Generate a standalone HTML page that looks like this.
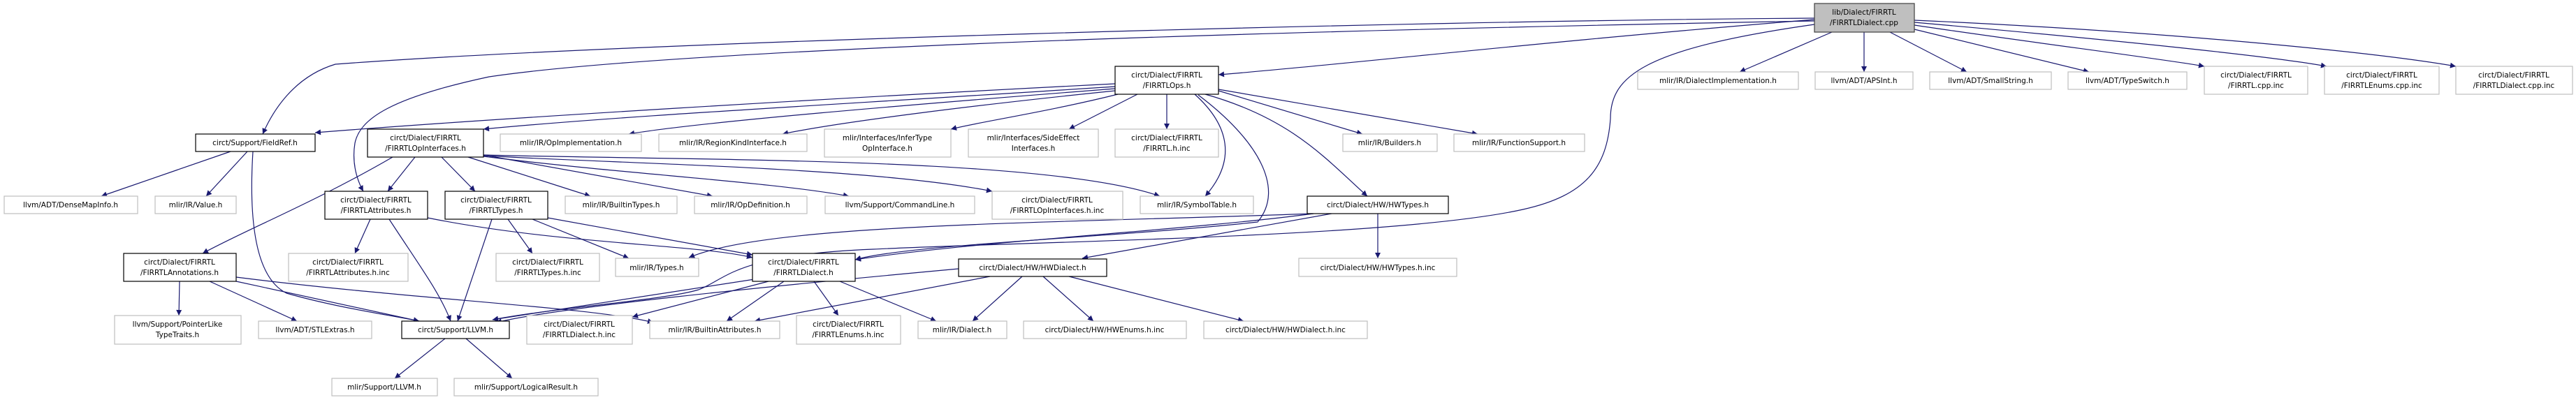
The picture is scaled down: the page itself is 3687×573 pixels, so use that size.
<!DOCTYPE html>
<html><head><meta charset="utf-8"><style>
html,body{margin:0;padding:0;background:#fff;}
svg{display:block;}
text{font-family:"DejaVu Sans","Liberation Sans",sans-serif;font-size:10.5px;fill:#000;}
.e{fill:none;stroke:#191970;stroke-width:1.2;}
.b{fill:#fff;stroke:#000;stroke-width:1.2;}
.g{fill:#fff;stroke:#bfbfbf;stroke-width:1.2;}
</style></head><body>
<svg width="3687" height="573" viewBox="0 0 3687 573" xmlns="http://www.w3.org/2000/svg">
<defs><marker id="a" viewBox="0 0 10 10" refX="10" refY="5" markerWidth="9" markerHeight="8" orient="auto" markerUnits="userSpaceOnUse"><path d="M0,0L10,5L0,10z" fill="#191970"/></marker></defs>
<g class="e" marker-end="url(#a)">
<path d="M2597,28 C2200,60 1900,95 1744,107"/>
<path d="M2597,26 C2000,30 900,60 480,92 C420,110 390,160 376,192"/>
<path d="M2597,30 C1500,50 900,80 700,110 C560,140 515,170 508,205 C503,235 512,260 520,274"/>
<path d="M2597,35 C2350,70 2305,110 2305,170 C2300,240 2270,280 2180,300 C2000,340 1500,345 1250,357 C1050,365 1040,400 1000,415 C950,430 800,440 705,458"/>
<path d="M2622,46 L2490,103"/>
<path d="M2668,46 L2668,103"/>
<path d="M2705,46 L2815,103"/>
<path d="M2740,42 L2990,103"/>
<path d="M2740,36 C2900,60 3100,85 3155,95"/>
<path d="M2740,32 C3000,55 3250,80 3330,95"/>
<path d="M2740,29 C3100,45 3400,75 3515,95"/>
<path d="M1596,120 C1200,140 700,170 451,190"/>
<path d="M1596,124 C1200,150 900,165 692,185"/>
<path d="M1596,127 C1300,150 1000,175 900,192"/>
<path d="M1596,130 C1400,150 1200,175 1120,192"/>
<path d="M1600,135 C1500,160 1400,175 1361,185"/>
<path d="M1628,135 L1530,185"/>
<path d="M1670,135 L1670,185"/>
<path d="M1710,135 C1760,180 1770,230 1725,281"/>
<path d="M1744,130 L1950,192"/>
<path d="M1744,128 L2115,192"/>
<path d="M1725,135 C1850,170 1900,230 1957,281"/>
<path d="M1715,136 C1800,200 1840,270 1800,318 C1600,340 1300,350 1224,372"/>
<path d="M562,225 C450,290 350,330 290,363"/>
<path d="M594,225 L555,274"/>
<path d="M632,225 L680,274"/>
<path d="M670,225 L845,281"/>
<path d="M692,222 L1020,281"/>
<path d="M692,224 C900,250 1100,260 1215,281"/>
<path d="M692,223 C900,235 1250,240 1420,274"/>
<path d="M692,222 C1000,230 1500,225 1660,281"/>
<path d="M612,312 C800,350 1000,350 1077,369"/>
<path d="M784,312 L1077,365"/>
<path d="M762,314 L900,370"/>
<path d="M727,314 L762,363"/>
<path d="M704,314 L655,460"/>
<path d="M530,314 L508,363"/>
<path d="M557,314 C600,380 630,420 645,460"/>
<path d="M330,217 L145,281"/>
<path d="M354,217 L295,281"/>
<path d="M362,217 C355,330 370,400 410,420 C480,440 550,450 600,460"/>
<path d="M257,403 L256,452"/>
<path d="M300,403 L425,460"/>
<path d="M338,403 L600,460"/>
<path d="M338,397 C600,430 850,440 935,462"/>
<path d="M637,485 L565,542"/>
<path d="M667,485 L733,542"/>
<path d="M1080,400 L705,458"/>
<path d="M1122,403 L1040,460"/>
<path d="M1165,403 L1200,452"/>
<path d="M1100,403 L905,454"/>
<path d="M1202,403 L1340,460"/>
<path d="M1372,385 C1100,410 800,440 710,462"/>
<path d="M1417,396 L1080,460"/>
<path d="M1463,396 L1392,460"/>
<path d="M1493,396 L1565,460"/>
<path d="M1530,396 L1780,460"/>
<path d="M1972,306 L1972,370"/>
<path d="M1906,306 L1549,370"/>
<path d="M1880,306 C1700,330 1400,345 1224,372"/>
<path d="M1880,306 C1500,320 1100,320 986,369"/>
</g>
<g>
<rect class="b" x="2597" y="5" width="143" height="41" style="fill:#bfbfbf;stroke:#404040"/>
<text x="2668" y="21" text-anchor="middle">lib/Dialect/FIRRTL</text><text x="2668" y="36" text-anchor="middle">/FIRRTLDialect.cpp</text>
<rect class="b" x="1596" y="95" width="148" height="40"/><text x="1670" y="111" text-anchor="middle">circt/Dialect/FIRRTL</text><text x="1670" y="126" text-anchor="middle">/FIRRTLOps.h</text>
<rect class="b" x="280" y="192" width="171" height="25"/><text x="365" y="208" text-anchor="middle">circt/Support/FieldRef.h</text>
<rect class="b" x="526" y="185" width="166" height="40"/><text x="609" y="201" text-anchor="middle">circt/Dialect/FIRRTL</text><text x="609" y="216" text-anchor="middle">/FIRRTLOpInterfaces.h</text>
<rect class="g" x="716" y="192" width="202" height="25"/><text x="817" y="208" text-anchor="middle">mlir/IR/OpImplementation.h</text>
<rect class="g" x="6" y="281" width="191" height="25"/><text x="101" y="297" text-anchor="middle">llvm/ADT/DenseMapInfo.h</text>
<rect class="g" x="222" y="281" width="116" height="25"/><text x="280" y="297" text-anchor="middle">mlir/IR/Value.h</text>
<rect class="b" x="465" y="274" width="147" height="40"/><text x="538" y="290" text-anchor="middle">circt/Dialect/FIRRTL</text><text x="538" y="305" text-anchor="middle">/FIRRTLAttributes.h</text>
<rect class="b" x="637" y="274" width="147" height="40"/><text x="710" y="290" text-anchor="middle">circt/Dialect/FIRRTL</text><text x="710" y="305" text-anchor="middle">/FIRRTLTypes.h</text>
<rect class="g" x="809" y="281" width="160" height="25"/><text x="889" y="297" text-anchor="middle">mlir/IR/BuiltinTypes.h</text>
<rect class="b" x="177" y="363" width="161" height="40"/><text x="257" y="379" text-anchor="middle">circt/Dialect/FIRRTL</text><text x="257" y="394" text-anchor="middle">/FIRRTLAnnotations.h</text>
<rect class="g" x="413" y="363" width="171" height="40"/><text x="498" y="379" text-anchor="middle">circt/Dialect/FIRRTL</text><text x="498" y="394" text-anchor="middle">/FIRRTLAttributes.h.inc</text>
<rect class="g" x="710" y="363" width="148" height="40"/><text x="784" y="379" text-anchor="middle">circt/Dialect/FIRRTL</text><text x="784" y="394" text-anchor="middle">/FIRRTLTypes.h.inc</text>
<rect class="g" x="881" y="370" width="119" height="26"/><text x="940" y="387" text-anchor="middle">mlir/IR/Types.h</text>
<rect class="g" x="164" y="452" width="181" height="41"/><text x="254" y="468" text-anchor="middle">llvm/Support/PointerLike</text><text x="254" y="483" text-anchor="middle">TypeTraits.h</text>
<rect class="g" x="370" y="460" width="162" height="25"/><text x="451" y="476" text-anchor="middle">llvm/ADT/STLExtras.h</text>
<rect class="b" x="575" y="460" width="154" height="25"/><text x="652" y="476" text-anchor="middle">circt/Support/LLVM.h</text>
<rect class="g" x="754" y="452" width="151" height="41"/><text x="829" y="468" text-anchor="middle">circt/Dialect/FIRRTL</text><text x="829" y="483" text-anchor="middle">/FIRRTLDialect.h.inc</text>
<rect class="g" x="475" y="542" width="151" height="25"/><text x="550" y="558" text-anchor="middle">mlir/Support/LLVM.h</text>
<rect class="g" x="650" y="542" width="206" height="25"/><text x="753" y="558" text-anchor="middle">mlir/Support/LogicalResult.h</text>
<rect class="g" x="943" y="192" width="212" height="25"/><text x="1049" y="208" text-anchor="middle">mlir/IR/RegionKindInterface.h</text>
<rect class="g" x="1180" y="185" width="181" height="40"/><text x="1270" y="201" text-anchor="middle">mlir/Interfaces/InferType</text><text x="1270" y="216" text-anchor="middle">OpInterface.h</text>
<rect class="g" x="1386" y="185" width="186" height="40"/><text x="1479" y="201" text-anchor="middle">mlir/Interfaces/SideEffect</text><text x="1479" y="216" text-anchor="middle">Interfaces.h</text>
<rect class="g" x="1596" y="185" width="148" height="40"/><text x="1670" y="201" text-anchor="middle">circt/Dialect/FIRRTL</text><text x="1670" y="216" text-anchor="middle">/FIRRTL.h.inc</text>
<rect class="g" x="994" y="281" width="161" height="25"/><text x="1074" y="297" text-anchor="middle">mlir/IR/OpDefinition.h</text>
<rect class="g" x="1181" y="281" width="214" height="25"/><text x="1288" y="297" text-anchor="middle">llvm/Support/CommandLine.h</text>
<rect class="g" x="1420" y="274" width="187" height="40"/><text x="1513" y="290" text-anchor="middle">circt/Dialect/FIRRTL</text><text x="1513" y="305" text-anchor="middle">/FIRRTLOpInterfaces.h.inc</text>
<rect class="g" x="1632" y="281" width="162" height="25"/><text x="1713" y="297" text-anchor="middle">mlir/IR/SymbolTable.h</text>
<rect class="b" x="1077" y="363" width="147" height="40"/><text x="1150" y="379" text-anchor="middle">circt/Dialect/FIRRTL</text><text x="1150" y="394" text-anchor="middle">/FIRRTLDialect.h</text>
<rect class="b" x="1372" y="371" width="212" height="25"/><text x="1478" y="387" text-anchor="middle">circt/Dialect/HW/HWDialect.h</text>
<rect class="g" x="930" y="460" width="186" height="25"/><text x="1023" y="476" text-anchor="middle">mlir/IR/BuiltinAttributes.h</text>
<rect class="g" x="1140" y="452" width="149" height="41"/><text x="1214" y="468" text-anchor="middle">circt/Dialect/FIRRTL</text><text x="1214" y="483" text-anchor="middle">/FIRRTLEnums.h.inc</text>
<rect class="g" x="1314" y="460" width="127" height="25"/><text x="1377" y="476" text-anchor="middle">mlir/IR/Dialect.h</text>
<rect class="g" x="1465" y="460" width="233" height="25"/><text x="1581" y="476" text-anchor="middle">circt/Dialect/HW/HWEnums.h.inc</text>
<rect class="g" x="1723" y="460" width="234" height="25"/><text x="1840" y="476" text-anchor="middle">circt/Dialect/HW/HWDialect.h.inc</text>
<rect class="g" x="1922" y="192" width="135" height="25"/><text x="1989" y="208" text-anchor="middle">mlir/IR/Builders.h</text>
<rect class="g" x="2081" y="192" width="187" height="25"/><text x="2174" y="208" text-anchor="middle">mlir/IR/FunctionSupport.h</text>
<rect class="b" x="1871" y="281" width="202" height="25"/><text x="1972" y="297" text-anchor="middle">circt/Dialect/HW/HWTypes.h</text>
<rect class="g" x="1859" y="370" width="226" height="26"/><text x="1972" y="387" text-anchor="middle">circt/Dialect/HW/HWTypes.h.inc</text>
<rect class="g" x="2344" y="103" width="230" height="25"/><text x="2459" y="119" text-anchor="middle">mlir/IR/DialectImplementation.h</text>
<rect class="g" x="2598" y="103" width="140" height="25"/><text x="2668" y="119" text-anchor="middle">llvm/ADT/APSInt.h</text>
<rect class="g" x="2762" y="103" width="174" height="25"/><text x="2849" y="119" text-anchor="middle">llvm/ADT/SmallString.h</text>
<rect class="g" x="2960" y="103" width="170" height="25"/><text x="3045" y="119" text-anchor="middle">llvm/ADT/TypeSwitch.h</text>
<rect class="g" x="3155" y="95" width="148" height="40"/><text x="3229" y="111" text-anchor="middle">circt/Dialect/FIRRTL</text><text x="3229" y="126" text-anchor="middle">/FIRRTL.cpp.inc</text>
<rect class="g" x="3327" y="95" width="164" height="40"/><text x="3409" y="111" text-anchor="middle">circt/Dialect/FIRRTL</text><text x="3409" y="126" text-anchor="middle">/FIRRTLEnums.cpp.inc</text>
<rect class="g" x="3515" y="95" width="167" height="40"/><text x="3598" y="111" text-anchor="middle">circt/Dialect/FIRRTL</text><text x="3598" y="126" text-anchor="middle">/FIRRTLDialect.cpp.inc</text>
</g>
</svg>
</body></html>
